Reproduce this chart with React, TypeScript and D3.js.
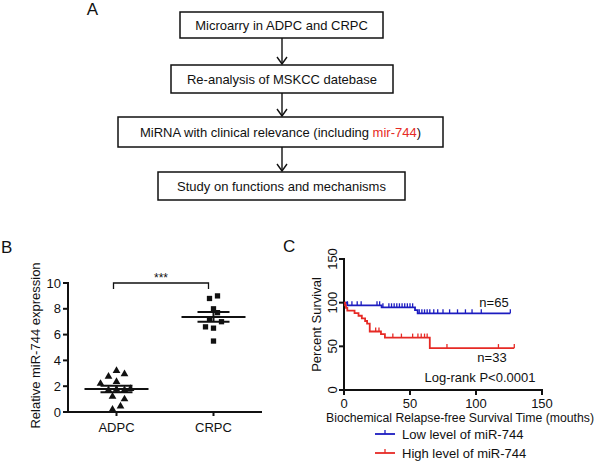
import React from "react";
import * as d3 from "d3";

// ---- Panel A: flowchart ----
const flowSteps = [
  "Microarry in ADPC and CRPC",
  "Re-analysis of MSKCC datebase",
  "MiRNA with clinical relevance (including |mir-744|)",
  "Study on functions and mechanisms",
];

// ---- Panel B: scatter ----
const groups = ["ADPC", "CRPC"];
const adpcValues = [3.2, 2.95, 2.75, 2.35, 2.2, 1.75, 1.7, 1.7, 1.2, 1.0, 0.45, 0.2, 1.8];
const adpcDodge = [0, 2, -2, 0, -4, 0, -2, 2, -1, 2, 1, -1, 3.5];
const crpcValues = [8.8, 9.0, 8.0, 7.7, 7.2, 7.0, 6.6, 6.5, 5.5];
const crpcDodge = [-1, 1, 0, 1, -1, 2, -2, 0, 0];
const bTicks = [0, 2, 4, 6, 8, 10];

// ---- Panel C: Kaplan-Meier ----
const lowSteps: [number, number][] = [
  [0, 100], [2.5, 97], [28.5, 94.7], [53.8, 91.5], [55.8, 87.8],
];
const lowEnd = 126;
const lowCensor = [2.5, 6, 10, 13, 25, 27, 29.5, 34, 36, 38, 40, 42, 44, 46, 48, 50, 52, 57, 59, 61, 63, 65, 68, 71, 75, 80, 86, 92, 97, 104, 126];
const highSteps: [number, number][] = [
  [0, 100], [0.8, 97], [1.5, 94], [2.5, 91], [8, 88], [11, 85], [13.5, 82], [16, 79], [17.5, 76], [19.5, 67], [28, 64], [31, 60], [65, 48],
];
const highEnd = 129;
const highCensor = [24, 26.5, 37, 43.5, 52, 56, 58.5, 61, 63, 78, 117, 129];
const cTicks = [0, 50, 100, 150];

const FONT = "Arial, 'Liberation Sans', Helvetica, sans-serif";
const BLUE = "#1c1cc0";
const RED = "#e62a25";

function kmPath(steps: [number, number][], end: number, x: any, y: any) {
  let p = `M${x(steps[0][0])},${y(steps[0][1])}`;
  for (let i = 1; i < steps.length; i++) {
    p += `H${x(steps[i][0])}V${y(steps[i][1])}`;
  }
  p += `H${x(end)}`;
  return p;
}
function valueAt(steps: [number, number][], t: number) {
  let v = steps[0][1];
  for (const s of steps) if (s[0] <= t) v = s[1];
  return v;
}

export default function App() {
  // Panel A geometry
  const boxes = [
    { x0: 180, x1: 383, y0: 12, y1: 38 },
    { x0: 171, x1: 393, y0: 65, y1: 93 },
    { x0: 118, x1: 443, y0: 117, y1: 147 },
    { x0: 158, x1: 405, y0: 172, y1: 200 },
  ];
  const arrowX = 282;

  // Panel B scales
  const bx = d3.scalePoint<string>().domain(groups).range([68, 262]).padding(0.5);
  const by = d3.scaleLinear().domain([0, 10]).range([412, 283]);
  const dodgeStep = 4;
  const sym = (type: any, size: number) => d3.symbol().type(type).size(size)()!;
  const tri = sym(d3.symbolTriangle, 26);
  const sq = sym(d3.symbolSquare, 28);
  const stats = [adpcValues, crpcValues].map((vals) => {
    const m = d3.mean(vals)!;
    const sem = d3.deviation(vals)! / Math.sqrt(vals.length);
    return { m, sem };
  });

  // Panel C scales
  const cx = d3.scaleLinear().domain([0, 150]).range([344, 542]);
  const cy = d3.scaleLinear().domain([0, 150]).range([390, 259]);

  return (
    <svg width={600} height={461} style={{ position: "absolute", left: 0, top: 0, background: "#fff" }} fontFamily={FONT}>
      {/* Panel A */}
      <text x={92.5} y={15} fontSize={17} textAnchor="middle" fill="#111">A</text>
      {boxes.map((b, i) => {
        const parts = flowSteps[i].split("|");
        return (
          <g key={i}>
            <rect x={b.x0} y={b.y0} width={b.x1 - b.x0} height={b.y1 - b.y0} fill="none" stroke="#111" strokeWidth={1.5} />
            <text x={(b.x0 + b.x1) / 2} y={(b.y0 + b.y1) / 2 + 4.5} fontSize={13} textAnchor="middle" fill="#111">
              {parts.map((p, j) => (
                <tspan key={j} fill={j === 1 ? RED : "#111"}>{p}</tspan>
              ))}
            </text>
            {i < boxes.length - 1 && (
              <g stroke="#111" strokeWidth={1.4} fill="none">
                <line x1={arrowX} x2={arrowX} y1={b.y1} y2={boxes[i + 1].y0 - 1} />
                <polyline points={`${arrowX - 5},${boxes[i + 1].y0 - 8} ${arrowX},${boxes[i + 1].y0 - 1} ${arrowX + 5},${boxes[i + 1].y0 - 8}`} />
              </g>
            )}
          </g>
        );
      })}

      {/* Panel B */}
      <text x={1} y={253} fontSize={17} fill="#111">B</text>
      <text transform={`translate(40,${by(5) - 2}) rotate(-90)`} fontSize={13} textAnchor="middle" fill="#111">Relative miR-744 expression</text>
      <g stroke="#111" strokeWidth={2}>
        <line x1={68} x2={68} y1={by(10) - 1} y2={by(0) + 1} />
        <line x1={67} x2={262} y1={by(0)} y2={by(0)} />
        {bTicks.map((t) => (
          <line key={t} x1={63} x2={68} y1={by(t)} y2={by(t)} />
        ))}
        {groups.map((g) => (
          <line key={g} x1={bx(g)!} x2={bx(g)!} y1={by(0)} y2={by(0) + 4} />
        ))}
      </g>
      {bTicks.map((t) => (
        <text key={t} x={61} y={by(t) + 4.5} fontSize={13} textAnchor="end" fill="#111">{t}</text>
      ))}
      {groups.map((g) => (
        <text key={g} x={bx(g)!} y={432} fontSize={13} textAnchor="middle" fill="#111">{g}</text>
      ))}
      {/* significance bracket */}
      <path d={`M${bx("ADPC")! - 3},${by(10) + 6}V${by(10)}H${bx("CRPC")! - 5}V${by(10) + 6}`} fill="none" stroke="#111" strokeWidth={1.3} />
      <text x={(bx("ADPC")! + bx("CRPC")!) / 2 - 4} y={by(10) - 1} fontSize={12} textAnchor="middle" fill="#111">***</text>
      {/* points */}
      {adpcValues.map((v, i) => (
        <path key={"a" + i} d={tri} transform={`translate(${bx("ADPC")! + adpcDodge[i] * dodgeStep},${by(v)})`} fill="#111" />
      ))}
      {crpcValues.map((v, i) => (
        <path key={"c" + i} d={sq} transform={`translate(${bx("CRPC")! + crpcDodge[i] * dodgeStep},${by(v)})`} fill="#111" />
      ))}
      {/* mean ± SEM */}
      {groups.map((g, i) => {
        const c = bx(g)!;
        const { m, sem } = stats[i];
        return (
          <g key={g} stroke="#111" strokeWidth={2}>
            <line x1={c - 32} x2={c + 32} y1={by(m)} y2={by(m)} />
            <line x1={c - 16} x2={c + 16} y1={by(m + sem)} y2={by(m + sem)} />
            <line x1={c - 16} x2={c + 16} y1={by(m - sem)} y2={by(m - sem)} />
            <line x1={c} x2={c} y1={by(m + sem)} y2={by(m - sem)} />
          </g>
        );
      })}

      {/* Panel C */}
      <text x={283} y={252} fontSize={17} fill="#111">C</text>
      <text transform={`translate(321,${cy(75)}) rotate(-90)`} fontSize={13} textAnchor="middle" fill="#111">Percent Survival</text>
      <g stroke="#111" strokeWidth={2}>
        <line x1={344} x2={344} y1={cy(150) - 1} y2={cy(0) + 1} />
        <line x1={343} x2={cx(150) + 1} y1={cy(0)} y2={cy(0)} />
        {cTicks.map((t) => (
          <line key={"y" + t} x1={339} x2={344} y1={cy(t)} y2={cy(t)} />
        ))}
        {cTicks.map((t) => (
          <line key={"x" + t} x1={cx(t)} x2={cx(t)} y1={cy(0)} y2={cy(0) + 5} />
        ))}
      </g>
      {cTicks.map((t) => (
        <text key={"yl" + t} transform={`translate(337,${cy(t)}) rotate(-90)`} fontSize={13} textAnchor="middle" fill="#111">{t}</text>
      ))}
      {cTicks.map((t) => (
        <text key={"xl" + t} x={cx(t)} y={408} fontSize={13} textAnchor="middle" fill="#111">{t}</text>
      ))}
      <text x={326} y={422} fontSize={12.5} textLength={268} lengthAdjust="spacingAndGlyphs" fill="#111">Biochemical Relapse-free Survival Time (mouths)</text>

      <path d={kmPath(lowSteps, lowEnd, cx, cy)} fill="none" stroke={BLUE} strokeWidth={1.8} />
      {lowCensor.map((t, i) => (
        <line key={"lc" + i} x1={cx(t)} x2={cx(t)} y1={cy(valueAt(lowSteps, t))} y2={cy(valueAt(lowSteps, t)) - 4} stroke={BLUE} strokeWidth={1.3} />
      ))}
      <path d={kmPath(highSteps, highEnd, cx, cy)} fill="none" stroke={RED} strokeWidth={1.8} />
      {highCensor.map((t, i) => (
        <line key={"hc" + i} x1={cx(t)} x2={cx(t)} y1={cy(valueAt(highSteps, t))} y2={cy(valueAt(highSteps, t)) - 4} stroke={RED} strokeWidth={1.3} />
      ))}

      <text x={494} y={307} fontSize={13} textAnchor="middle" fill="#111">n=65</text>
      <text x={492} y={362} fontSize={13} textAnchor="middle" fill="#111">n=33</text>
      <text x={480} y={382} fontSize={13} textAnchor="middle" fill="#111">Log-rank P&lt;0.0001</text>

      {/* Legend */}
      {[
        { label: "Low level of miR-744", color: BLUE, y: 434 },
        { label: "High level of miR-744", color: RED, y: 453 },
      ].map((l) => (
        <g key={l.label}>
          <line x1={375} x2={395} y1={l.y} y2={l.y} stroke={l.color} strokeWidth={1.8} />
          <line x1={385} x2={385} y1={l.y} y2={l.y - 4} stroke={l.color} strokeWidth={1.3} />
          <text x={402} y={l.y + 4.5} fontSize={13} fill="#111">{l.label}</text>
        </g>
      ))}
    </svg>
  );
}
